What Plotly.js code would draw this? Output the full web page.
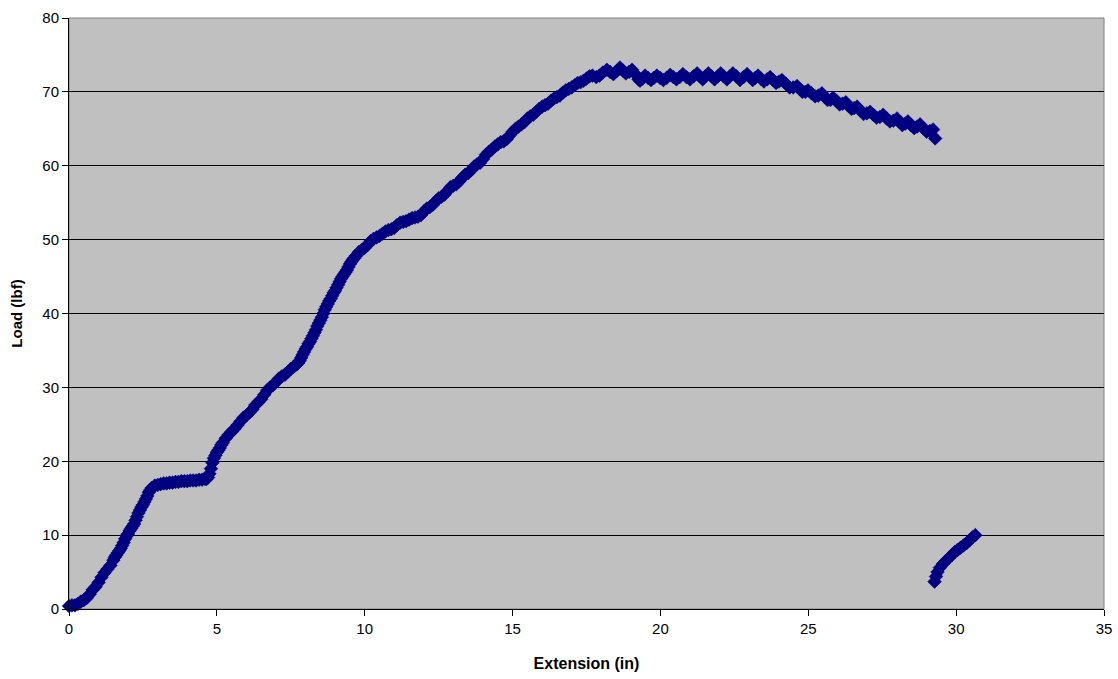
<!DOCTYPE html>
<html>
<head>
<meta charset="utf-8">
<script src="https://cdn.plot.ly/plotly-3.0.1.min.js"></script>
<style>
  html, body { margin: 0; padding: 0; background: #ffffff; }
  #chart { width: 1118px; height: 679px; }
</style>
</head>
<body>
<div id="chart"></div>
<script>
// Tensile test record: crosshead extension (in) against load (lbf)
const extension = [
  0.0, 0.1, 0.2, 0.3, 0.4, 0.5, 0.6, 0.7, 0.8, 0.9,
  1.0, 1.1, 1.2, 1.3, 1.4, 1.5,
  1.55, 1.6, 1.65, 1.7, 1.75, 1.8, 1.85, 1.9, 1.95, 2.0,
  2.05, 2.1, 2.15, 2.2, 2.25, 2.3, 2.35, 2.4, 2.45, 2.5,
  2.55, 2.6, 2.65, 2.7, 2.75, 2.8,
  2.9, 3.0, 3.1, 3.2, 3.3, 3.4, 3.5, 3.6, 3.7, 3.8, 3.9,
  4.0, 4.1, 4.2, 4.3, 4.4, 4.5, 4.6, 4.65, 4.7, 4.75,
  4.8, 4.85, 4.9, 4.95, 5.0, 5.05, 5.1, 5.15, 5.2, 5.3,
  5.4, 5.5, 5.6, 5.7, 5.8, 5.9, 6.0, 6.1, 6.2, 6.3,
  6.4, 6.5, 6.6, 6.7, 6.8, 6.9, 7.0, 7.1, 7.2, 7.3,
  7.4, 7.5, 7.6, 7.7,
  7.75, 7.8, 7.85, 7.9, 7.95, 8.0, 8.05, 8.1, 8.15, 8.2,
  8.25, 8.3, 8.35, 8.4, 8.45, 8.5, 8.55, 8.6, 8.65, 8.7,
  8.75, 8.8, 8.85, 8.9, 8.95, 9.0, 9.05, 9.1, 9.15, 9.2,
  9.25, 9.3, 9.35, 9.4, 9.45, 9.5, 9.55, 9.6, 9.65, 9.7,
  9.8, 9.9, 10.0, 10.1, 10.2, 10.3,
  10.4, 10.5, 10.6, 10.7, 10.8, 10.9, 11.0, 11.1, 11.2, 11.3,
  11.4, 11.5, 11.6, 11.7, 11.8, 11.9, 12.0, 12.1, 12.2, 12.3,
  12.4, 12.5, 12.6, 12.7, 12.8, 12.9, 13.0, 13.1, 13.2, 13.3,
  13.4, 13.5, 13.6, 13.7, 13.8, 13.9, 14.0, 14.1, 14.2, 14.3,
  14.4, 14.5, 14.6, 14.7, 14.8, 14.9, 15.0, 15.1, 15.2, 15.3,
  15.4, 15.5, 15.6, 15.7, 15.8, 15.9, 16.0, 16.1, 16.2, 16.3,
  16.4, 16.5, 16.6, 16.7, 16.8, 16.9, 17.0, 17.1, 17.2, 17.3,
  17.4, 17.5, 17.6, 17.7, 17.83, 17.94, 18.05, 18.19, 18.30, 18.41,
  18.52, 18.63, 18.73, 18.83, 18.94, 19.04, 19.15, 19.26, 19.31, 19.40,
  19.48, 19.58, 19.68, 19.78, 19.88, 19.99, 20.10, 20.21, 20.33, 20.44,
  20.54, 20.65, 20.76, 20.88, 21.00, 21.12, 21.24, 21.33, 21.43, 21.52,
  21.62, 21.73, 21.83, 21.94, 22.04, 22.14, 22.25, 22.35, 22.45, 22.57,
  22.69, 22.81, 22.93, 23.02, 23.12, 23.21, 23.30, 23.40, 23.50, 23.61,
  23.71, 23.81, 23.91, 24.01, 24.11, 24.24, 24.37, 24.49, 24.62, 24.71,
  24.80, 24.90, 24.99, 25.11, 25.23, 25.34, 25.46, 25.56, 25.65, 25.75,
  25.84, 25.95, 26.06, 26.16, 26.27, 26.36, 26.46, 26.55, 26.65, 26.76,
  26.87, 26.98, 27.09, 27.20, 27.31, 27.42, 27.53, 27.65, 27.76, 27.88,
  28.00, 28.09, 28.18, 28.28, 28.37, 28.47, 28.58, 28.68, 28.78, 28.89,
  29.00, 29.11, 29.22, 29.29,
  29.27, 29.32, 29.37, 29.45, 29.55, 29.65, 29.75, 29.85, 29.95, 30.05,
  30.15, 30.25, 30.35, 30.45, 30.55, 30.65
];

const load = [
  0.4, 0.5, 0.5, 0.7, 1.0, 1.2, 1.5, 2.0, 2.6, 3.0,
  3.6, 4.3, 4.9, 5.4, 5.9, 6.6,
  7.0, 7.3, 7.6, 7.9, 8.2, 8.6, 9.0, 9.5, 9.9, 10.2,
  10.6, 10.9, 11.2, 11.5, 12.0, 12.5, 13.0, 13.4, 13.8, 14.1,
  14.5, 14.9, 15.3, 15.8, 16.1, 16.4,
  16.7, 16.8, 16.9, 17.0, 17.0, 17.1, 17.1, 17.2, 17.2, 17.3, 17.3,
  17.3, 17.4, 17.4, 17.4, 17.5, 17.5, 17.6, 17.6, 17.8, 18.3,
  19.0, 19.8, 20.4, 20.8, 21.2, 21.5, 21.8, 22.2, 22.5, 23.1,
  23.6, 24.0, 24.4, 24.9, 25.4, 25.9, 26.2, 26.6, 27.0, 27.6,
  28.0, 28.4, 29.0, 29.6, 30.0, 30.3, 30.7, 31.2, 31.5, 31.7,
  32.1, 32.5, 32.8, 33.1,
  33.3, 33.6, 34.0, 34.4, 34.8, 35.2, 35.5, 35.9, 36.2, 36.6,
  37.0, 37.4, 37.8, 38.3, 38.7, 39.1, 39.5, 40.0, 40.5, 40.9,
  41.3, 41.7, 42.0, 42.4, 42.8, 43.1, 43.5, 43.9, 44.3, 44.7,
  45.0, 45.3, 45.6, 45.9, 46.3, 46.7, 47.0, 47.3, 47.5, 47.8,
  48.3, 48.6, 48.9, 49.3, 49.8, 50.1,
  50.3, 50.5, 50.8, 51.1, 51.3, 51.4, 51.6, 52.0, 52.3, 52.4,
  52.5, 52.7, 52.9, 53.0, 53.1, 53.3, 53.8, 54.2, 54.4, 54.7,
  55.2, 55.6, 55.8, 56.1, 56.6, 57.1, 57.3, 57.5, 57.9, 58.4,
  58.8, 59.0, 59.4, 59.9, 60.2, 60.4, 60.9, 61.5, 61.9, 62.2,
  62.6, 62.9, 63.2, 63.3, 63.6, 64.1, 64.6, 65.0, 65.3, 65.6,
  65.9, 66.4, 66.7, 66.9, 67.3, 67.7, 68.0, 68.2, 68.4, 68.8,
  69.1, 69.3, 69.5, 69.9, 70.2, 70.4, 70.6, 70.9, 71.2, 71.3,
  71.5, 71.8, 72.1, 72.2, 72.0, 72.2, 72.6, 73.0, 72.7, 72.4,
  72.8, 73.3, 72.9, 72.5, 72.7, 73.0, 72.4, 71.7, 71.5, 71.8,
  72.2, 71.9, 71.6, 71.9, 72.2, 71.9, 71.6, 71.9, 72.3, 72.0,
  71.7, 72.0, 72.4, 72.0, 71.7, 72.1, 72.5, 72.1, 71.7, 72.1,
  72.5, 72.1, 71.7, 72.1, 72.5, 72.1, 71.7, 72.1, 72.5, 72.1,
  71.6, 72.0, 72.4, 72.0, 71.6, 71.9, 72.2, 71.8, 71.4, 71.7,
  72.0, 71.6, 71.2, 71.4, 71.6, 71.1, 70.6, 70.6, 70.8, 70.4,
  70.0, 70.0, 70.2, 69.8, 69.4, 69.5, 69.8, 69.3, 68.9, 68.9,
  69.2, 68.8, 68.3, 68.4, 68.6, 68.1, 67.7, 67.8, 68.0, 67.5,
  67.0, 67.1, 67.3, 66.9, 66.5, 66.6, 66.9, 66.4, 66.0, 66.1,
  66.4, 65.9, 65.5, 65.7, 66.0, 65.5, 65.1, 65.3, 65.6, 65.1,
  64.6, 64.7, 64.9, 63.7,
  3.7, 4.4, 5.0, 5.6, 6.1, 6.5, 6.9, 7.3, 7.7, 8.0,
  8.3, 8.6, 8.9, 9.3, 9.7, 10.0
];

// Axis ticks
const xTicks = [0, 5, 10, 15, 20, 25, 30, 35];
const yTicks = [0, 10, 20, 30, 40, 50, 60, 70, 80];

const markerColor = '#000080';
const font = 'Arial, "Liberation Sans", sans-serif';

const trace = {
  type: 'scatter',
  mode: 'markers',
  x: extension,
  y: load,
  cliponaxis: false,
  marker: {
    symbol: 'diamond',
    size: 10.5,
    color: markerColor,
    line: { width: 0.6, color: markerColor }
  },
  hoverinfo: 'x+y'
};

const layout = {
  width: 1118,
  height: 679,
  margin: { l: 69, r: 14, t: 18, b: 70, pad: 0 },
  paper_bgcolor: '#ffffff',
  plot_bgcolor: '#C0C0C0',
  showlegend: false,
  font: { family: font, size: 15, color: '#000000' },
  xaxis: {
    range: [0, 35],
    tickmode: 'array',
    tickvals: xTicks,
    ticktext: xTicks.map(String),
    ticks: 'outside',
    ticklen: 6,
    tickwidth: 1,
    tickcolor: '#000000',
    showline: true,
    linecolor: '#000000',
    linewidth: 1,
    showgrid: false,
    zeroline: false,
    automargin: false,
    tickfont: { family: font, size: 15 },
    title: {
      text: 'Extension (in)',
      font: { family: font, size: 16, weight: 'bold' },
      standoff: 21
    }
  },
  yaxis: {
    range: [0, 80],
    tickmode: 'array',
    tickvals: yTicks,
    ticktext: yTicks.map(String),
    ticks: 'outside',
    ticklen: 6,
    tickwidth: 1,
    tickcolor: '#000000',
    showline: true,
    linecolor: '#000000',
    linewidth: 1,
    showgrid: true,
    gridcolor: '#000000',
    gridwidth: 1,
    zeroline: false,
    automargin: false,
    tickfont: { family: font, size: 15 },
    title: {
      text: 'Load (lbf)',
      font: { family: font, size: 15, weight: 'bold' },
      standoff: 16
    }
  },
  shapes: [
    {
      type: 'rect', xref: 'paper', yref: 'paper',
      x0: 0, x1: 1, y0: 0, y1: 1,
      line: { color: '#808080', width: 1 },
      fillcolor: 'rgba(0,0,0,0)',
      layer: 'below'
    }
  ]
};

Plotly.newPlot('chart', [trace], layout, { displayModeBar: false, staticPlot: true });
</script>
</body>
</html>
